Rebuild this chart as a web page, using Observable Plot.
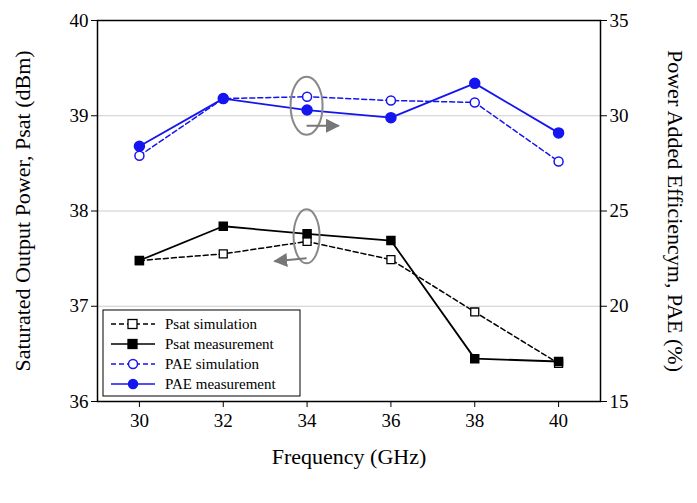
<!DOCTYPE html>
<html><head>
<script src="https://cdn.jsdelivr.net/npm/d3@7"></script>
<script src="https://cdn.jsdelivr.net/npm/@observablehq/plot@0.6"></script>
<style>body{margin:0;background:#fff}</style>
</head><body><div id="c"></div>
<script>
const freq = [30, 32, 34, 36, 38, 40];
const psatSim = [37.48, 37.55, 37.68, 37.49, 36.94, 36.40];
const psatMeas = [37.48, 37.84, 37.76, 37.69, 36.45, 36.42];
const paeSim = [27.9, 30.9, 31.0, 30.8, 30.7, 27.6];
const paeMeas = [28.4, 30.9, 30.3, 29.9, 31.7, 29.1];
const leftTicks = [36, 37, 38, 39, 40];
const rightTicks = [15, 20, 25, 30, 35];
const toY = p => 36 + (p - 15) / 5;
const mk = (ys, name, conv) => freq.map((f, i) => ({f, v: conv ? toY(ys[i]) : ys[i], name}));
const dPS = mk(psatSim, "Psat simulation"), dPM = mk(psatMeas, "Psat measurement");
const dES = mk(paeSim, "PAE simulation", true), dEM = mk(paeMeas, "PAE measurement", true);
const blue = "#1515f0";
const font = "Liberation Serif, Times New Roman, serif";
const plot = Plot.plot({
  width: 697, height: 503, marginLeft: 97, marginRight: 97, marginTop: 20, marginBottom: 102,
  style: {fontFamily: font, fontSize: "19px", color: "#000"},
  x: {domain: [29, 41], ticks: freq, label: null},
  y: {domain: [36, 40], ticks: leftTicks, label: null},
  marks: [
    Plot.ruleY([37, 38, 39], {stroke: "#ccc", strokeWidth: 1, strokeOpacity: 1}),
    Plot.frame({stroke: "#000", strokeWidth: 1.5}),
    Plot.axisX({ticks: freq, tickSize: 6, fontSize: 19, tickPadding: 6, label: null}),
    Plot.axisY({ticks: leftTicks, tickSize: 6, fontSize: 19, label: null, tickFormat: d => String(d)}),
    Plot.axisY({anchor: "right", ticks: leftTicks, tickSize: 6, fontSize: 19, label: null,
      tickFormat: d => rightTicks[leftTicks.indexOf(d)]}),
    Plot.line(dPS, {x: "f", y: "v", stroke: "#000", strokeDasharray: "5,3", strokeWidth: 1.5}),
    Plot.line(dPM, {x: "f", y: "v", stroke: "#000", strokeWidth: 1.8}),
    Plot.line(dES, {x: "f", y: "v", stroke: blue, strokeDasharray: "5,3", strokeWidth: 1.5}),
    Plot.line(dEM, {x: "f", y: "v", stroke: blue, strokeWidth: 1.8}),
    Plot.dot(dPS, {x: "f", y: "v", symbol: "square", r: 4.5, fill: "#fff", stroke: "#000", strokeWidth: 1.3}),
    Plot.dot(dPM, {x: "f", y: "v", symbol: "square", r: 4.5, fill: "#000", stroke: "#000"}),
    Plot.dot(dES, {x: "f", y: "v", r: 4.5, fill: "#fff", stroke: blue, strokeWidth: 1.5}),
    Plot.dot(dEM, {x: "f", y: "v", r: 5, fill: blue, stroke: blue}),
    Plot.text(["Frequency (GHz)"], {frameAnchor: "bottom", dy: 62, fontSize: 22}),
    Plot.text(["Saturated Output Power, Psat (dBm)"], {frameAnchor: "left", dx: -75, rotate: -90, textAnchor: "middle", fontSize: 22}),
    Plot.text(["Power Added Efficiencym, PAE (%)"], {frameAnchor: "right", dx: 75, rotate: 90, textAnchor: "middle", fontSize: 22})
  ]
});
const svg = d3.select(plot);
const sx = plot.scale("x"), sy = plot.scale("y");
const g = svg.append("g");
svg.append("defs").html('<marker id="ah" viewBox="0 0 10 10" refX="9" refY="5" markerWidth="7" markerHeight="7" orient="auto"><path d="M0,0L10,5L0,10z" fill="#777"/></marker>');
const e1x = sx.apply(34), e1y = sy.apply(39.1);
g.append("ellipse").attr("cx", e1x).attr("cy", e1y).attr("rx", 16).attr("ry", 29).attr("fill", "none").attr("stroke", "#888").attr("stroke-width", 2);
g.append("line").attr("x1", e1x).attr("y1", e1y + 20).attr("x2", e1x + 32).attr("y2", e1y + 20).attr("stroke", "#777").attr("stroke-width", 2).attr("marker-end", "url(#ah)");
const e2x = sx.apply(34), e2y = sy.apply(37.73);
g.append("ellipse").attr("cx", e2x).attr("cy", e2y).attr("rx", 13).attr("ry", 27).attr("fill", "none").attr("stroke", "#888").attr("stroke-width", 2);
g.append("line").attr("x1", e2x).attr("y1", e2y + 22).attr("x2", e2x - 32).attr("y2", e2y + 25).attr("stroke", "#777").attr("stroke-width", 2).attr("marker-end", "url(#ah)");
const lg = svg.append("g").attr("transform", "translate(103,310)").attr("text-anchor", "start");
lg.append("rect").attr("width", 197).attr("height", 86).attr("fill", "#fff").attr("stroke", "#000").attr("stroke-width", 1);
const items = [
  {n: "Psat simulation", c: "#000", dash: "5,3", fill: "#fff", sq: true},
  {n: "Psat measurement", c: "#000", dash: null, fill: "#000", sq: true},
  {n: "PAE simulation", c: blue, dash: "5,3", fill: "#fff", sq: false},
  {n: "PAE measurement", c: blue, dash: null, fill: blue, sq: false}];
items.forEach((it, i) => {
  const y = 14 + i * 20;
  lg.append("line").attr("x1", 8).attr("x2", 52).attr("y1", y).attr("y2", y).attr("stroke", it.c).attr("stroke-width", 1.5).attr("stroke-dasharray", it.dash);
  if (it.sq) lg.append("rect").attr("x", 25).attr("y", y - 4.5).attr("width", 9).attr("height", 9).attr("fill", it.fill).attr("stroke", it.c).attr("stroke-width", 1.3);
  else lg.append("circle").attr("cx", 30).attr("cy", y).attr("r", 4.5).attr("fill", it.fill).attr("stroke", it.c).attr("stroke-width", 1.5);
  lg.append("text").attr("x", 62).attr("y", y + 5).attr("text-anchor", "start").attr("font-size", 15).attr("font-family", font).text(it.n);
});
document.getElementById("c").append(plot);
</script></body></html>
